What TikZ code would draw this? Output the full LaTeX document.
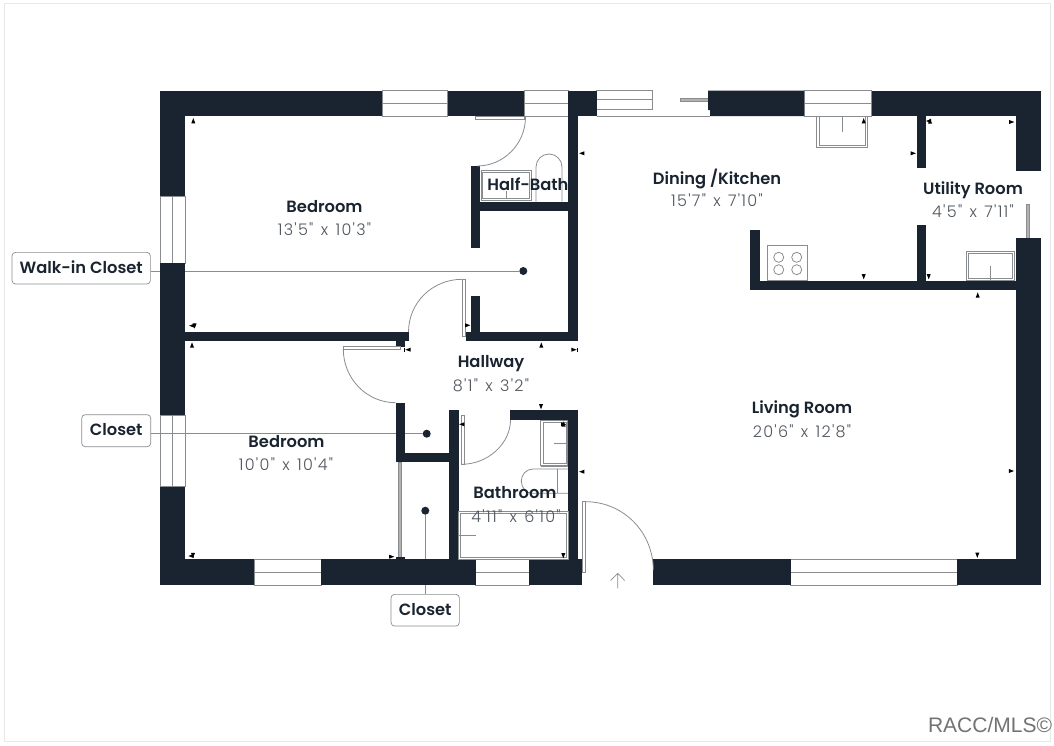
\documentclass[tikz,border=0pt]{standalone}
\usepackage{fontspec}
\setmainfont{Poppins}
\newfontfamily\rn{Poppins SemiBold}
\newfontfamily\dm{Poppins Light}[LetterSpace=8,WordSpace=1.3]
\newfontfamily\wm{Liberation Sans}
\definecolor{wallc}{HTML}{1A2430}
\definecolor{linec}{HTML}{8A8D90}
\definecolor{dimc}{HTML}{50565E}
\tikzset{
 wall/.style={fill=wallc,draw=none},
 win/.style={fill=white,draw=linec,line width=.8pt},
 fix/.style={fill=white,draw=linec,line width=.9pt},
 thin line/.style={draw=linec,line width=.8pt},
 lead/.style={draw=linec,line width=.8pt},
 tag/.style={draw=linec,rounded corners=3.5pt,line width=.7pt,fill=white,text=wallc,inner sep=0pt,text height=11pt,text depth=1pt,font=\rn\fontsize{16.3}{17}\selectfont},
 dot/.style={circle,fill=wallc,minimum size=8pt,inner sep=0pt},
 roomname/.style={text=wallc,inner sep=0pt,text height=12pt,text depth=1pt,font=\rn\fontsize{16.3}{17}\selectfont},
 roomdim/.style={text=dimc,inner sep=0pt,text height=11pt,text depth=0pt,font=\dm\fontsize{16}{18}\selectfont},
}
\newcommand{\tu}[2]{\fill[black] (#1-2,#2+2.6) -- (#1+2,#2+2.6) -- (#1,#2-2.6) -- cycle;}
\newcommand{\td}[2]{\fill[black] (#1-2,#2-2.6) -- (#1+2,#2-2.6) -- (#1,#2+2.6) -- cycle;}
\newcommand{\tl}[2]{\fill[black] (#1+2.6,#2-2) -- (#1+2.6,#2+2) -- (#1-2.6,#2) -- cycle;}
\newcommand{\tr}[2]{\fill[black] (#1-2.6,#2-2) -- (#1-2.6,#2+2) -- (#1+2.6,#2) -- cycle;}
\newcommand{\winh}[2]{\draw[win] (#1,90.7) rectangle (#2,116); \draw[thin line] (#1,103.3) -- (#2,103.3);}
\newcommand{\winb}[2]{\draw[win] (#1,559.3) rectangle (#2,585); \draw[thin line] (#1,572.2) -- (#2,572.2);}
\newcommand{\winv}[2]{\draw[win] (160,#1) rectangle (185.3,#2); \draw[thin line] (172.7,#1) -- (172.7,#2);}
\begin{document}
\begin{tikzpicture}[x=1pt,y=-1pt]
\useasboundingbox (0,0) rectangle (1054,745);
\fill[white] (0,0) rectangle (1054,745);
\draw[draw=black!9,line width=.8pt] (4,3) rectangle (1050,741.5);

% windows
\winh{382}{447.5}
\winh{524}{568.3}
\winh{804}{871.7}
\winv{196}{263.3}
\winv{415}{486.5}
\winb{254.3}{321}
\winb{475.7}{529.3}
\winb{790.7}{957.3}
% sliding door and thin openings
\draw[win] (596.7,90.7) rectangle (652.7,109);
\draw[thin line] (596.7,99.3) -- (652.7,99.3);
\draw[thin line] (596.7,116) -- (710,116);
\draw[fill=black!30,draw=linec,line width=.5pt] (680,98.7) rectangle (708,101.3);
\draw[fill=black!30,draw=linec,line width=.5pt] (1026.7,204.3) rectangle (1029.3,238.3);

% callouts
\node[tag,minimum width=138.3pt,minimum height=31.7pt] (wic) at (81.2,268.2) {Walk-in Closet};
\node[tag,minimum width=69pt,minimum height=32pt] (cl1) at (116.2,430.7) {Closet};
\node[tag,minimum width=68.3pt,minimum height=31.7pt] (cl2) at (425.2,610.2) {Closet};
\node[dot] (d1) at (523.3,271) {};
\node[dot] (d2) at (426.7,433.7) {};
\node[dot] (d3) at (425.3,510.7) {};
\draw[lead] (wic.east |- d1) -- (d1);
\draw[lead] (cl1.east |- d2) -- (d2);
\draw[lead] (d3) -- (d3 |- cl2.north);

% walls
\fill[wall] (160,90.7) rectangle (382,116);
\fill[wall] (447.5,90.7) rectangle (524,116);
\fill[wall] (568.3,90.7) rectangle (596.7,116);
\fill[wall] (708,90.7) -- (804,90.7) -- (804,116) -- (710,116) -- (710,110) -- (708,110) -- cycle;
\fill[wall] (871.7,90.7) rectangle (1041,116);
\fill[wall] (160,90.7) rectangle (185.3,196);
\fill[wall] (160,263.3) rectangle (185.3,415);
\fill[wall] (160,486.5) rectangle (185.3,585);
\fill[wall] (160,559.3) rectangle (254.3,585);
\fill[wall] (321,559.3) rectangle (475.7,585);
\fill[wall] (529.3,559.3) rectangle (582.3,585);
\fill[wall] (653.3,559.3) rectangle (790.7,585);
\fill[wall] (957.3,559.3) rectangle (1041,585);
\fill[wall] (1015.5,90.7) rectangle (1041,170.7);
\fill[wall] (1015.5,238.3) rectangle (1041,585);
% interior walls
\fill[wall] (185,331.7) rectangle (409,341);
\fill[wall] (395.7,341) rectangle (405,346.7);
\fill[wall] (465.7,331.7) rectangle (577.7,341);
\fill[wall] (568.3,116) rectangle (577.7,341);
\fill[wall] (471,295.7) rectangle (480.3,332);
\fill[wall] (471,166) rectangle (480.3,248.3);
\fill[wall] (480,201.7) rectangle (568.3,211);
\fill[wall] (916.7,116) rectangle (926,168.3);
\fill[wall] (916.7,225) rectangle (926,281);
\fill[wall] (750,280.7) rectangle (1016,290);
\fill[wall] (750,230) rectangle (759.7,281);
\fill[wall] (395.7,402.7) rectangle (405,462.3);
\fill[wall] (395.7,452.7) rectangle (449,462.3);
\fill[wall] (448.7,410.3) rectangle (458.7,559.5);
\fill[wall] (510.3,410.3) rectangle (577.7,420);
\fill[wall] (568.3,410.3) rectangle (577.7,559.5);

% door leaves and swings
\draw[fix] (475.3,116) rectangle (524,119);
\draw[thin line] (525.5,117) .. controls (525.5,143.8) and (503.8,166) .. (477,166);
\draw[fix] (462,279.3) rectangle (465.3,336.7);
\draw[thin line] (462,279.3) .. controls (432.5,279.3) and (408.5,302.5) .. (408.5,332);
\draw[fix] (343.3,346) rectangle (400.7,349.3);
\draw[thin line] (343.3,349) .. controls (343.3,378.6) and (366.6,402.7) .. (395.7,402.7);
\draw[fix] (461.3,415) rectangle (464.3,464.3);
\draw[thin line] (461.5,464.3) .. controls (488.5,464.3) and (510.5,443) .. (510.5,420);
\draw[fix] (582.3,501.7) rectangle (585.7,572.3);
\draw[thin line] (585.7,501.7) .. controls (623,501.7) and (653.3,532) .. (653.3,570);
% bifold door
\draw[fill=black!30,draw=linec,line width=.5pt] (398.3,462.3) rectangle (401.7,559.3);
\draw[fill=wallc,draw=none] (395.7,556.5) rectangle (405,559.5);

% half-bath fixtures
\draw[fix] (481,170) rectangle (531.7,200);
\draw[fix] (482.7,172.3) rectangle (529,198.3);
\draw[thin line] (506.7,190.7) -- (506.7,198.3);
\draw[thin line] (536,201.7) -- (536,167) .. controls (536,159.8) and (541.8,154) .. (549,154) .. controls (556.2,154) and (562,159.8) .. (562,167) -- (562,201.7);
% kitchen
\draw[fix] (816.7,116) rectangle (867.7,147.3);
\draw[fix] (819.3,116) rectangle (865.7,145);
\draw[thin line] (842.3,116) -- (842.3,131.7);
\draw[fix] (767.7,245.7) rectangle (807.7,280.7);
\foreach \cx/\cy [count=\i] in {778.7/257.3,796.7/257.3,778.7/269.7,796.7/269.7}
  \draw[thin line] (\cx,\cy) circle[radius=5];
% utility
\draw[fix] (966,251.3) rectangle (1014.3,280.5);
\draw[fix] (968.7,253.3) rectangle (1012,278);
\draw[thin line] (990.3,266) -- (990.3,280);
% bathroom
\draw[fix] (540.7,420) rectangle (567.7,465);
\draw[fix] (543,422) rectangle (566,463);
\draw[thin line] (554.3,443) -- (568,443);
\draw[thin line] (540.7,466.5) -- (568,466.5);
\draw[thin line] (568,469) -- (533,469) .. controls (526.3,469) and (521.3,474.5) .. (521.3,481) .. controls (521.3,487.8) and (526.3,493.3) .. (533,493.3) -- (568,493.3);
\draw[thin line] (557.3,469) -- (557.3,493.3);
\draw[fix] (458.7,511.7) rectangle (568.3,559.3);
\draw[fix] (460.7,513.7) rectangle (566,557);
\draw[thin line] (458.7,535) -- (476,535);
% entry arrow
\draw[linec,line width=.7pt] (617.7,588.3) -- (617.7,573.3) (610.7,580.5) -- (617.7,573.3) -- (624.7,580.5);

% dimension ticks
\tu{193.3}{120.7} \tl{191.7}{325.7} \td{194.6}{326} \tu{192}{345}
\tl{408}{349.7} \draw[black,line width=.6pt] (404.7,347.5) -- (404.7,352);
\tl{581.7}{153.3} \tr{467.7}{325.3} \tu{541.3}{345}
\tr{574}{349.7} \draw[black,line width=.6pt] (577.5,347.5) -- (577.5,352);
\tu{863.7}{120.7} \tl{928.5}{121} \tu{930}{121} \tr{913.3}{153.3} \tr{1011.7}{122}
\td{863.7}{276.7} \td{928.7}{276.7} \tu{977.7}{295}
\td{541}{406.7} \tl{461.7}{424.3} \tr{563.7}{424.3} \tu{563.7}{424} \tl{581.7}{471.7}
\td{563.3}{555.7} \tr{391.7}{556.7} \tl{191}{556} \td{193}{555.5} \td{977.3}{555.3} \tr{1011.5}{471}

% room labels
\node[roomname] (r1) at (324.5,207) {Bedroom};
\node[roomdim] (r1d) at (324.5,229.5) {13'5" x 10'3"};
\node[roomname] (r2) at (528,185) {Half-Bath};
\node[roomname] (r3) at (717,178.5) {Dining /Kitchen};
\node[roomdim] (r3d) at (717,200.5) {15'7" x 7'10"};
\node[roomname] (r4) at (973,188.5) {Utility Room};
\node[roomdim] (r4d) at (973,211.5) {4'5" x 7'11"};
\node[roomname] (r5) at (491,362) {Hallway};
\node[roomdim] (r5d) at (491,385.5) {8'1" x 3'2"};
\node[roomname] (r6) at (286.5,441.5) {Bedroom};
\node[roomdim] (r6d) at (286,464.5) {10'0" x 10'4"};
\node[roomname] (r7) at (515,493) {Bathroom};
\node[roomdim] (r7d) at (516,516.5) {4'11" x 6'10"};
\node[roomname] (r8) at (802,408) {Living Room};
\node[roomdim] (r8d) at (802,431.5) {20'6" x 12'8"};
\node[text=black!55,inner sep=0pt,font=\wm\fontsize{21}{22}\selectfont] (wmk) at (990,725) {RACC/MLS©};
\end{tikzpicture}
\end{document}
